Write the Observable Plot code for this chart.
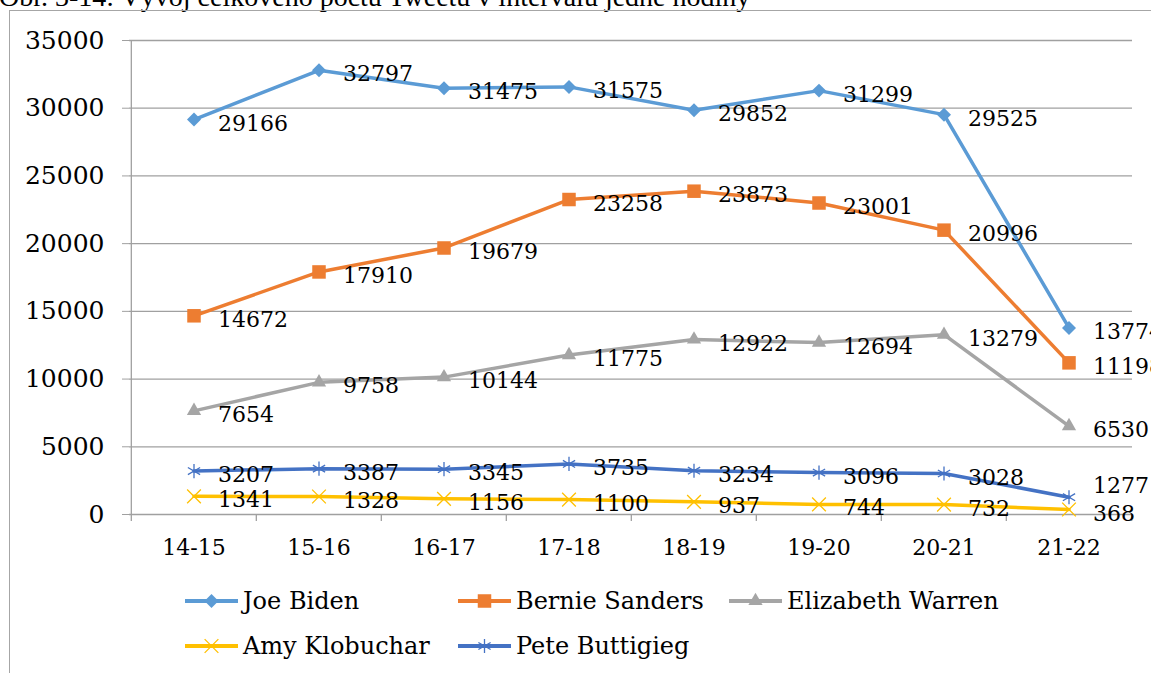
<!DOCTYPE html>
<html><head><meta charset="utf-8">
<script src="https://cdn.jsdelivr.net/npm/d3@7"></script>
<script src="https://cdn.jsdelivr.net/npm/@observablehq/plot@0.6"></script>
<style>
body{margin:0;width:1151px;height:673px;overflow:hidden;position:relative;background:#fff;font-family:"DejaVu Serif",serif;}
#title{position:absolute;left:-1px;top:-17px;line-height:1;font-family:"Liberation Serif",serif;font-size:28px;white-space:nowrap;color:#000}
#frame{position:absolute;left:9px;top:10px;width:1200px;height:700px;border-left:1.5px solid #a6a6a6;border-top:1.5px solid #a6a6a6}
#chart{position:absolute;left:0;top:0}
#legend{position:absolute;left:0;top:0}
.item{position:absolute;display:flex;align-items:center;font-size:24px;white-space:nowrap;color:#000;transform:translateY(-50%)}
.item svg{margin-right:5px;overflow:visible}
</style></head><body>
<div id="title">Obr. 3-14: Vývoj celkového počtu Tweetů v intervalu jedné hodiny</div>
<div id="frame"></div>
<div id="chart"></div>
<div id="legend"></div>
<script>
const categories = ["14-15","15-16","16-17","17-18","18-19","19-20","20-21","21-22"];
const joeBiden = [29166,32797,31475,31575,29852,31299,29525,13774];
const bernieSanders = [14672,17910,19679,23258,23873,23001,20996,11198];
const elizabethWarren = [7654,9758,10144,11775,12922,12694,13279,6530];
const amyKlobuchar = [1341,1328,1156,1100,937,744,732,368];
const peteButtigieg = [3207,3387,3345,3735,3234,3096,3028,1277];
const yTicks = [0,5000,10000,15000,20000,25000,30000,35000];
const seriesNames = ["Joe Biden","Bernie Sanders","Elizabeth Warren","Amy Klobuchar","Pete Buttigieg"];
const seriesValues = [joeBiden,bernieSanders,elizabethWarren,amyKlobuchar,peteButtigieg];
const seriesColors = ["#5B9BD5","#ED7D31","#A5A5A5","#FFC000","#4472C4"];
const seriesSymbols = ["diamond2","square2","triangle2","times","asterisk"];

const rows = [];
seriesNames.forEach((s,i)=>categories.forEach((c,j)=>rows.push({series:s,cat:c,value:seriesValues[i][j],last:j===categories.length-1})));

const W=1151,H=580,mL=129,mR=19,mT=40,mB=66;
const bw=(W-mL-mR)/categories.length;
const gridColor="#a0a0a0";
const font="DejaVu Serif";
const rVals=[6.3,8.6,6.8,6.3,6.7];

const marks = [
  Plot.ruleY(yTicks,{stroke:gridColor,strokeWidth:1.3}),
  Plot.ruleX([categories[0]],{dx:-bw/2,stroke:gridColor,strokeWidth:1.3}),
  Plot.ruleX(categories,{dx:-bw/2,stroke:gridColor,strokeWidth:1.3,insetTop:H-mT-mB-7,dy:7}),
  Plot.ruleX([categories[categories.length-1]],{dx:bw/2,stroke:gridColor,strokeWidth:1.3,insetTop:H-mT-mB-7,dy:7}),
  Plot.axisY({ticks:yTicks,tickSize:7,tickPadding:18,stroke:gridColor,fontSize:25,tickFormat:d=>String(d),label:null}),
  Plot.axisX({tickSize:0,tickPadding:25,fontSize:22,label:null})
];
seriesNames.forEach((s,i)=>{
  const d = rows.filter(r=>r.series===s);
  marks.push(Plot.line(d,{x:"cat",y:"value",stroke:seriesColors[i],strokeWidth:3.5}));
  const stroked = seriesSymbols[i]==="times"||seriesSymbols[i]==="asterisk";
  marks.push(Plot.dot(d,{x:"cat",y:"value",symbol:()=>seriesSymbols[i],r:rVals[i],
    fill:stroked?"none":seriesColors[i],stroke:stroked?seriesColors[i]:"none",strokeWidth:stroked?1.3:0}));
});
// Excel-style label placement: labels to the right of the points; the last Buttigieg label is nudged up to avoid overlap
const crowded = d=>d.series==="Pete Buttigieg"&&d.last;
marks.push(Plot.text(rows.filter(d=>!crowded(d)),{x:"cat",y:"value",text:d=>String(d.value),textAnchor:"start",dx:24,dy:4,fontSize:22,fill:"#000"}));
marks.push(Plot.text(rows.filter(crowded),{x:"cat",y:"value",text:d=>String(d.value),textAnchor:"start",dx:24,dy:-11,fontSize:22,fill:"#000"}));

const chart = Plot.plot({
  width:W,height:H,marginLeft:mL,marginRight:mR,marginTop:mT,marginBottom:mB,
  style:{fontFamily:font,background:"transparent",color:"#000",overflow:"visible"},
  x:{type:"band",domain:categories,padding:0},
  y:{domain:[0,35000]},
  symbol:{type:"identity"},
  marks
});
document.getElementById("chart").append(chart);

// legend
const legendPos = [[185,601],[458,601],[729,601],[185,646],[458,646]];
const legend = document.getElementById("legend");
const symMap = {diamond2:d3.symbolDiamond2,square2:d3.symbolSquare2,triangle2:d3.symbolTriangle2,times:d3.symbolTimes,asterisk:d3.symbolAsterisk};
seriesNames.forEach((s,i)=>{
  const div=document.createElement("div");
  div.className="item";
  div.style.left=legendPos[i][0]+"px";
  div.style.top=legendPos[i][1]+"px";
  const stroked = seriesSymbols[i]==="times"||seriesSymbols[i]==="asterisk";
  const path = d3.symbol(symMap[seriesSymbols[i]], Math.PI*rVals[i]*rVals[i])();
  div.innerHTML=`<svg width="53" height="20"><line x1="0" x2="53" y1="10" y2="10" stroke="${seriesColors[i]}" stroke-width="4"/><path transform="translate(26.5,10)" d="${path}" fill="${stroked?"none":seriesColors[i]}" stroke="${stroked?seriesColors[i]:"none"}" stroke-width="1.3"/></svg><span>${s}</span>`;
  legend.append(div);
});
</script>
</body></html>
